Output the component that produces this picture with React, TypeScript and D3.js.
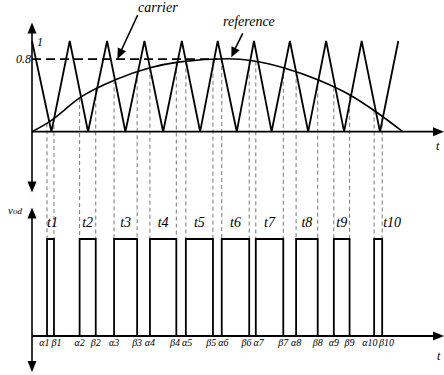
import React from 'react';
import * as d3 from 'd3';

// carrier triangle vertices (time in carrier periods, value 0..1)
const carrierT = [0, 0.53, 1.03, 1.53, 2.05, 2.55, 3.07, 3.58, 4.09, 4.59, 5.07, 5.59, 6.06, 6.54, 7.04, 7.54, 8.03, 8.52, 9.0, 9.5, 10];
const carrierV = [1, 0, 1, 0, 1, 0, 1, 0, 1, 0, 1, 0, 1, 0, 1, 0, 1, 0, 1, 0, 1];

// reference waveform
const refT = [0, 0.44, 1.35, 2.26, 3.22, 4.04, 5.35, 6.06, 6.91, 7.82, 8.68, 9.36, 10.12];
const refV = [0, 0.1, 0.386, 0.57, 0.705, 0.77, 0.805, 0.78, 0.7, 0.57, 0.405, 0.228, 0];

// switching instants
const alpha = [0.41, 1.3, 2.24, 3.22, 4.2, 5.18, 6.11, 7.21, 8.24, 9.34];
const beta = [0.6, 1.74, 2.87, 3.94, 4.94, 5.93, 6.86, 7.8, 8.67, 9.56];
const pulseNames = ['t1', 't2', 't3', 't4', 't5', 't6', 't7', 't8', 't9', 't10'];

const yTickVals = [1, 0.8];
const yTickText = ['1', '0.8'];

const W = 444, H = 375;
const ox = 32;
const font = "'Liberation Serif', 'Times New Roman', serif";
const tStyle = { fontFamily: font, fontStyle: 'italic' as const };

const Arrow = ({ x, y, dir, len = 11, half = 4.5 }: { x: number; y: number; dir: number; len?: number; half?: number }) => {
  // dir: angle in radians the arrow points to
  const bx = x - len * Math.cos(dir), by = y - len * Math.sin(dir);
  const px = -Math.sin(dir) * half, py = Math.cos(dir) * half;
  return <path d={`M${x},${y}L${bx + px},${by + py}L${bx - px},${by - py}Z`} fill="#000" />;
};

export default function App() {
  const x = d3.scaleLinear().domain([0, 10]).range([ox, 398.3]);
  const yTop = d3.scaleLinear().domain([0, 1]).range([131.7, 41]);
  const yBot = d3.scaleLinear().domain([0, 1]).range([336, 239]);

  const carrierPts = carrierT.map((t, i) => [t, carrierV[i]] as [number, number]);
  const refPts = refT.map((t, i) => [t, refV[i]] as [number, number]);
  const carrierLine = d3.line<[number, number]>().x(d => x(d[0])).y(d => yTop(d[1]));
  const refLine = d3.line<[number, number]>().x(d => x(d[0])).y(d => yTop(d[1])).curve(d3.curveMonotoneX);
  const refAt = d3.scaleLinear().domain(refT).range(refV);

  const edges = alpha.map((a, i) => ({ a, b: beta[i], name: pulseNames[i], i }));

  // switching labels below the axis, nudged apart where crowded
  const sw: { txt: string; sub: string; px: number; w: number }[] = [];
  alpha.forEach((a, i) => {
    sw.push({ txt: 'α', sub: String(i + 1), px: x(a), w: i === 9 ? 13 : 9 });
    sw.push({ txt: 'β', sub: String(i + 1), px: x(beta[i]), w: i === 9 ? 14 : 9 });
  });
  for (let k = 0; k < sw.length - 1; k++) {
    const need = (sw[k].w + sw[k + 1].w) / 2 + 3;
    const gap = sw[k + 1].px - sw[k].px;
    if (gap < need) {
      sw[k].px -= (need - gap) / 2;
      sw[k + 1].px += (need - gap) / 2;
    }
  }

  const y08 = yTop(0.8);

  return (
    <svg width={W} height={H} style={{ position: 'absolute', left: 0, top: 0, background: '#fff' }}>
      {/* dashed switching lines */}
      {edges.map(e => (
        <g key={e.name} stroke="#555" strokeWidth={0.8} strokeDasharray="4,3">
          <line x1={x(e.a)} x2={x(e.a)} y1={yTop(refAt(e.a))} y2={yBot(1)} />
          <line x1={x(e.b)} x2={x(e.b)} y1={yTop(refAt(e.b))} y2={yBot(1)} />
        </g>
      ))}

      {/* 0.8 dashed level */}
      <line x1={ox} x2={x(5.05)} y1={y08} y2={y08} stroke="#000" strokeWidth={1.6} strokeDasharray="9,5" />

      {/* carrier and reference */}
      <path d={carrierLine(carrierPts) || ''} fill="none" stroke="#000" strokeWidth={1.8} strokeLinejoin="miter" />
      <path d={refLine(refPts) || ''} fill="none" stroke="#000" strokeWidth={1.6} />

      {/* top axes */}
      <line x1={ox} x2={ox} y1={28} y2={187} stroke="#000" strokeWidth={1.6} />
      <Arrow x={ox} y={22.5} dir={-Math.PI / 2} />
      <Arrow x={ox} y={192.5} dir={Math.PI / 2} />
      <line x1={ox} x2={438} y1={yTop(0)} y2={yTop(0)} stroke="#000" strokeWidth={1.8} />
      <Arrow x={444} y={yTop(0)} dir={0} />
      <text x={436} y={150} fontSize={12} style={tStyle}>t</text>

      {yTickVals.map((v, i) => (
        <text key={v} x={i === 0 ? 37 : 31} y={yTop(v) + (i === 0 ? 5 : 4)} fontSize={12} style={tStyle}
          textAnchor={i === 0 ? 'start' : 'end'}>{yTickText[i]}</text>
      ))}

      {/* annotations */}
      <text x={138} y={12} fontSize={14} style={tStyle}>carrier</text>
      <line x1={137.7} y1={15} x2={121} y2={51} stroke="#000" strokeWidth={1.6} />
      <Arrow x={117.3} y={59.3} dir={Math.atan2(59.3 - 15, 117.3 - 137.7)} len={11} half={4.5} />
      <text x={223} y={26} fontSize={14} style={tStyle}>reference</text>
      <line x1={242.7} y1={33.3} x2={234} y2={51} stroke="#000" strokeWidth={1.6} />
      <Arrow x={231.3} y={57.3} dir={Math.atan2(57.3 - 33.3, 231.3 - 242.7)} len={10} half={4.5} />

      {/* bottom axes */}
      <line x1={ox} x2={ox} y1={213} y2={367} stroke="#000" strokeWidth={1.6} />
      <Arrow x={ox} y={207.5} dir={-Math.PI / 2} />
      <Arrow x={ox} y={372} dir={Math.PI / 2} />
      <line x1={ox} x2={438} y1={yBot(0)} y2={yBot(0)} stroke="#000" strokeWidth={1.8} />
      <Arrow x={444} y={yBot(0)} dir={0} />
      <text x={437} y={360} fontSize={12} style={tStyle}>t</text>
      <text x={8} y={214} fontSize={11} style={tStyle}>v<tspan fontSize={9}>od</tspan></text>

      {/* pulses */}
      {edges.map(e => (
        <path key={'p' + e.name}
          d={`M${x(e.a)},${yBot(0)}V${yBot(1)}H${x(e.b)}V${yBot(0)}`}
          fill="none" stroke="#000" strokeWidth={1.8} />
      ))}
      {edges.map(e => {
        const narrow = x(e.b) - x(e.a) < 12;
        const tx = narrow ? (e.i === 9 ? x(e.b) + 1 : x(e.a)) : (x(e.a) + x(e.b)) / 2;
        return (
          <text key={'l' + e.name} x={tx} y={227} fontSize={14} style={tStyle}
            textAnchor={narrow ? 'start' : 'middle'}>{e.name}</text>
        );
      })}

      {sw.map((s, k) => (
        <text key={'s' + k} x={s.px} y={346} fontSize={10} style={tStyle} textAnchor="middle">{s.txt}{s.sub}</text>
      ))}
    </svg>
  );
}
